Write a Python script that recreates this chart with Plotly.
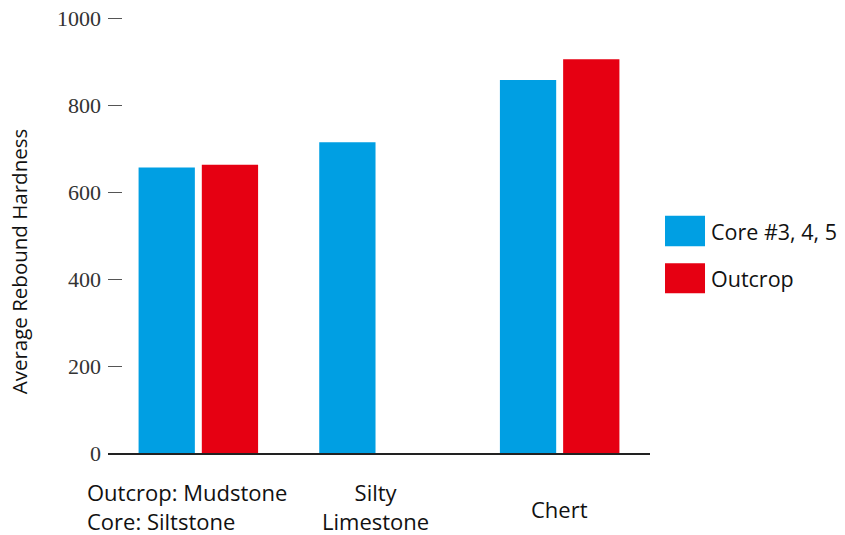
import plotly.graph_objects as go

categories = ["mudstone", "silty", "chert"]
category_labels = ["Outcrop: Mudstone<br>Core: Siltstone", "Silty<br>Limestone", "Chert"]
core_values = [657, 715, 858]
outcrop_values = [663, None, 906]
series_names = ["Core #3, 4, 5", "Outcrop"]
colors = ["#009FE3", "#E60012"]
y_ticks = [0, 200, 400, 600, 800, 1000]

sans = "Open Sans"
serif = "Liberation Serif"

fig = go.Figure()
fig.add_trace(go.Bar(x=categories, y=core_values, name=series_names[0],
                     marker=dict(color=colors[0], line=dict(width=0))))
fig.add_trace(go.Bar(x=categories, y=outcrop_values, name=series_names[1],
                     marker=dict(color=colors[1], line=dict(width=0))))

annotations = []
# category labels under the axis
for cat, lab in zip(categories, category_labels):
    align = "left" if cat == "mudstone" else "center"
    shift = -11 if cat == "mudstone" else (-4 if cat == "silty" else 0)
    yc = -0.128 if cat == "chert" else -0.122
    annotations.append(dict(x=cat, xref="x", y=yc, yref="paper", text=lab,
                            showarrow=False, xanchor="center", yanchor="middle",
                            align=align, xshift=shift, borderpad=0,
                            font=dict(family=sans, size=22, color="#111")))

# y-axis title
annotations.append(dict(x=-0.164, xref="paper", y=0.44, yref="paper",
                        text="Average Rebound Hardness", textangle=-90,
                        showarrow=False, xanchor="center", yanchor="middle",
                        font=dict(family=sans, size=20.5, color="#111")))

# legend: swatches and labels
shapes = []
legend_rows = [(0.544, 0.474), (0.4354, 0.3665)]
for (y1, y0), name, col in zip(legend_rows, series_names, colors):
    shapes.append(dict(type="rect", xref="paper", yref="paper",
                       x0=1.0277, x1=1.1015, y0=y0, y1=y1,
                       fillcolor=col, line=dict(width=0)))
    annotations.append(dict(x=1.1115, xref="paper", y=(y0 + y1) / 2, yref="paper",
                            text=name, showarrow=False, xanchor="left",
                            yanchor="middle", borderpad=0,
                            font=dict(family=sans, size=21.5, color="#111")))

fig.update_layout(
    width=845, height=535,
    margin=dict(l=108, r=195, t=17, b=82, autoexpand=False),
    paper_bgcolor="white", plot_bgcolor="white",
    barmode="group", bargap=0.3, bargroupgap=0.11,
    showlegend=False,
    annotations=annotations, shapes=shapes,
    xaxis=dict(range=[-0.5, 2.5], showticklabels=False, ticks="",
               showgrid=False, zeroline=False, showline=True, automargin=False,
               linecolor="#222", linewidth=1.5),
    yaxis=dict(range=[0, 1003], tickvals=y_ticks, ticks="inside", ticklen=14,
               tickcolor="#555", tickwidth=1, showgrid=False, zeroline=False,
               showline=False, ticklabelstandoff=6, automargin=False,
               tickfont=dict(family=serif, size=22, color="#333")),
)

fig.write_html("out.html")
